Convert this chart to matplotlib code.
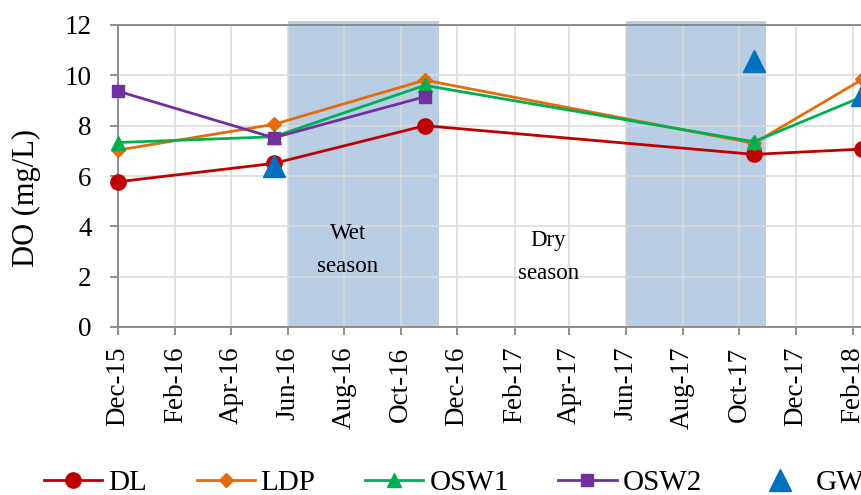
import matplotlib
matplotlib.use("Agg")
import matplotlib.pyplot as plt
import matplotlib.dates as mdates
import pandas as pd

plt.rcParams["font.family"] = ["Liberation Serif", "DejaVu Serif"]

# sampling dates
dates = pd.to_datetime(["2015-12-01", "2016-05-17", "2016-10-27", "2017-10-17", "2018-02-11"])
osw2_dates = dates[:3]
gw_dates = pd.to_datetime(["2016-05-17", "2017-10-17", "2018-02-11"])

# dissolved oxygen, mg/L
dl = [5.77, 6.50, 8.00, 6.86, 7.07]
ldp = [7.03, 8.05, 9.81, 7.30, 9.84]
osw1 = [7.33, 7.56, 9.60, 7.36, 9.15]
osw2 = [9.37, 7.52, 9.15]
gw = [6.38, 10.56, 9.20]

# wet season windows
wet_start = pd.to_datetime(["2016-06-01", "2017-06-01"])
wet_end = pd.to_datetime(["2016-11-11", "2017-10-30"])

fig = plt.figure(figsize=(8.62, 4.95), dpi=100)
ax = fig.add_axes([118 / 862, 1 - 327 / 495, 774 / 862, 302 / 495])

for s, e in zip(wet_start, wet_end):
    ax.axvspan(s, e, ymin=0, ymax=1.012, color="#B9CDE5", zorder=0, clip_on=False, lw=0)

ax.plot(dates, dl, color="#C00000", marker="o", ms=11, lw=2, label="DL", clip_on=False, zorder=3)
ax.plot(dates, ldp, color="#E46C0A", marker="D", ms=7.5, lw=2, label="LDP", clip_on=False, zorder=3)
ax.plot(dates, osw1, color="#00B050", marker="^", ms=9.5, lw=2, label="OSW1", clip_on=False, zorder=3)
ax.plot(osw2_dates, osw2, color="#7030A0", marker="s", ms=9, lw=2, label="OSW2", clip_on=False, zorder=3)
ax.plot(gw_dates, gw, color="#0070C0", marker="^", ms=15.5, lw=0, label="GW", clip_on=False, zorder=4)

ax.text(pd.Timestamp("2016-08-05"), 3.05, "Wet\nseason", ha="center", va="center",
        fontsize=16.5, linespacing=1.75)
ax.text(pd.Timestamp("2017-03-09"), 2.8, "Dry\nseason", ha="center", va="center",
        fontsize=16.5, linespacing=1.75)

ax.set_xlim(pd.Timestamp("2015-12-01"), pd.Timestamp("2018-03-15"))
ax.set_ylim(0, 12)
ax.set_yticks(range(0, 13, 2))
ax.xaxis.set_major_locator(mdates.MonthLocator(bymonth=[12, 2, 4, 6, 8, 10]))
ax.xaxis.set_major_formatter(mdates.DateFormatter("%b-%y"))
plt.setp(ax.get_xticklabels(), rotation=90)

ax.set_axisbelow(True)
ax.grid(True, color="#D9D9D9", lw=1.1)
for side in ["left", "bottom", "top"]:
    ax.spines[side].set_color("#868686")
    ax.spines[side].set_linewidth(1.3)
ax.spines["right"].set_visible(False)
ax.tick_params(axis="both", direction="out", length=6, width=1.3, color="#868686", labelsize=19.5)
ax.tick_params(axis="y", pad=13)
ax.tick_params(axis="x", pad=8)
ax.set_ylabel("DO (mg/L)", fontsize=22)
ax.yaxis.set_label_coords(-0.099, 0.427)

fig.legend(loc="center left", bbox_to_anchor=(44 / 862, 12 / 495), ncol=5, frameon=False,
           fontsize=21, handlelength=2.0, handletextpad=0.2, columnspacing=1.7,
           borderpad=0, borderaxespad=0)

fig.savefig("out.png", dpi=100)
